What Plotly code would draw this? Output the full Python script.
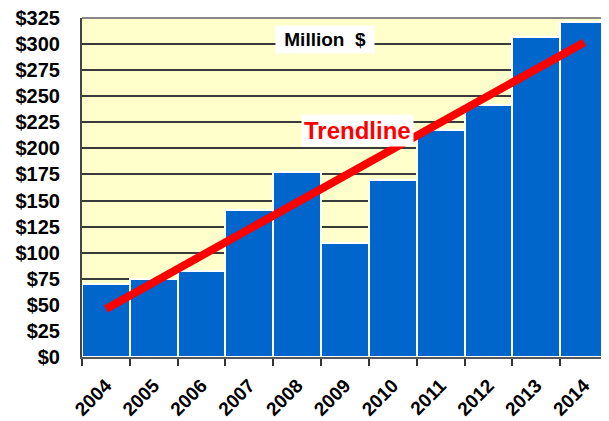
import numpy as np
import plotly.graph_objects as go

years = ["2004", "2005", "2006", "2007", "2008", "2009", "2010", "2011", "2012", "2013", "2014"]
revenue = [70, 75, 82, 141, 177, 109, 170, 218, 242, 307, 321]
y_ticks = list(range(0, 326, 25))
y_tick_labels = [f"${v}" for v in y_ticks]

# linear trendline fitted to the data
idx = np.arange(len(years))
slope, intercept = np.polyfit(idx, revenue, 1)
trend = list(intercept + slope * idx)

FONT = "Liberation Sans, Arial, sans-serif"

fig = go.Figure()
fig.add_trace(go.Bar(
    x=years, y=revenue,
    marker=dict(color="#0066CC", line=dict(color="white", width=2)),
    showlegend=False,
))
fig.add_trace(go.Scatter(
    x=[years[0], years[-1]], y=[trend[0], trend[-1]],
    mode="lines", line=dict(color="#FF0000", width=8),
    showlegend=False,
))

fig.update_layout(
    width=601, height=413,
    margin=dict(l=74, r=1, t=10, b=64),
    paper_bgcolor="white",
    plot_bgcolor="#FFFFCC",
    bargap=0,
    font=dict(family=FONT, color="black"),
    xaxis=dict(
        type="category",
        automargin=False,
        tickangle=-45,
        tickfont=dict(size=19, weight="bold", family=FONT),
        ticklabelstandoff=8,
        ticklabeloverflow="allow",
        showgrid=False,
        showline=True, linecolor="#555555", linewidth=2,
        ticks="outside", tickson="boundaries", ticklen=7, tickcolor="#333333", tickwidth=1.5,
        range=[-0.5, 10.5],
    ),
    yaxis=dict(
        automargin=False,
        range=[0, 325],
        tickvals=y_ticks, ticktext=y_tick_labels,
        tickfont=dict(size=20, weight="bold", family=FONT),
        ticklabeloverflow="allow",
        showgrid=True, gridcolor="#3a3a3a", gridwidth=1.5,
        showline=True, linecolor="#444444", linewidth=2,
        ticks="outside", ticklen=16, tickcolor="rgba(0,0,0,0)",
        zeroline=False,
    ),
    shapes=[
        dict(type="line", xref="paper", yref="paper", x0=0, x1=1, y0=1, y1=1,
             line=dict(color="#888888", width=2)),
    ],
    annotations=[
        dict(text="&nbsp;Million&nbsp;&nbsp;$&nbsp;", xref="paper", yref="paper", x=0.462, y=0.979,
             showarrow=False, bgcolor="white", borderpad=3,
             font=dict(size=19, weight="bold", family=FONT, color="black")),
        dict(text="Trendline", xref="paper", yref="paper", x=0.523, y=0.717,
             showarrow=False, bgcolor="white", borderpad=2,
             font=dict(size=24, weight="bold", family=FONT, color="#FF0000")),
    ],
)

fig.write_html("out.html")
